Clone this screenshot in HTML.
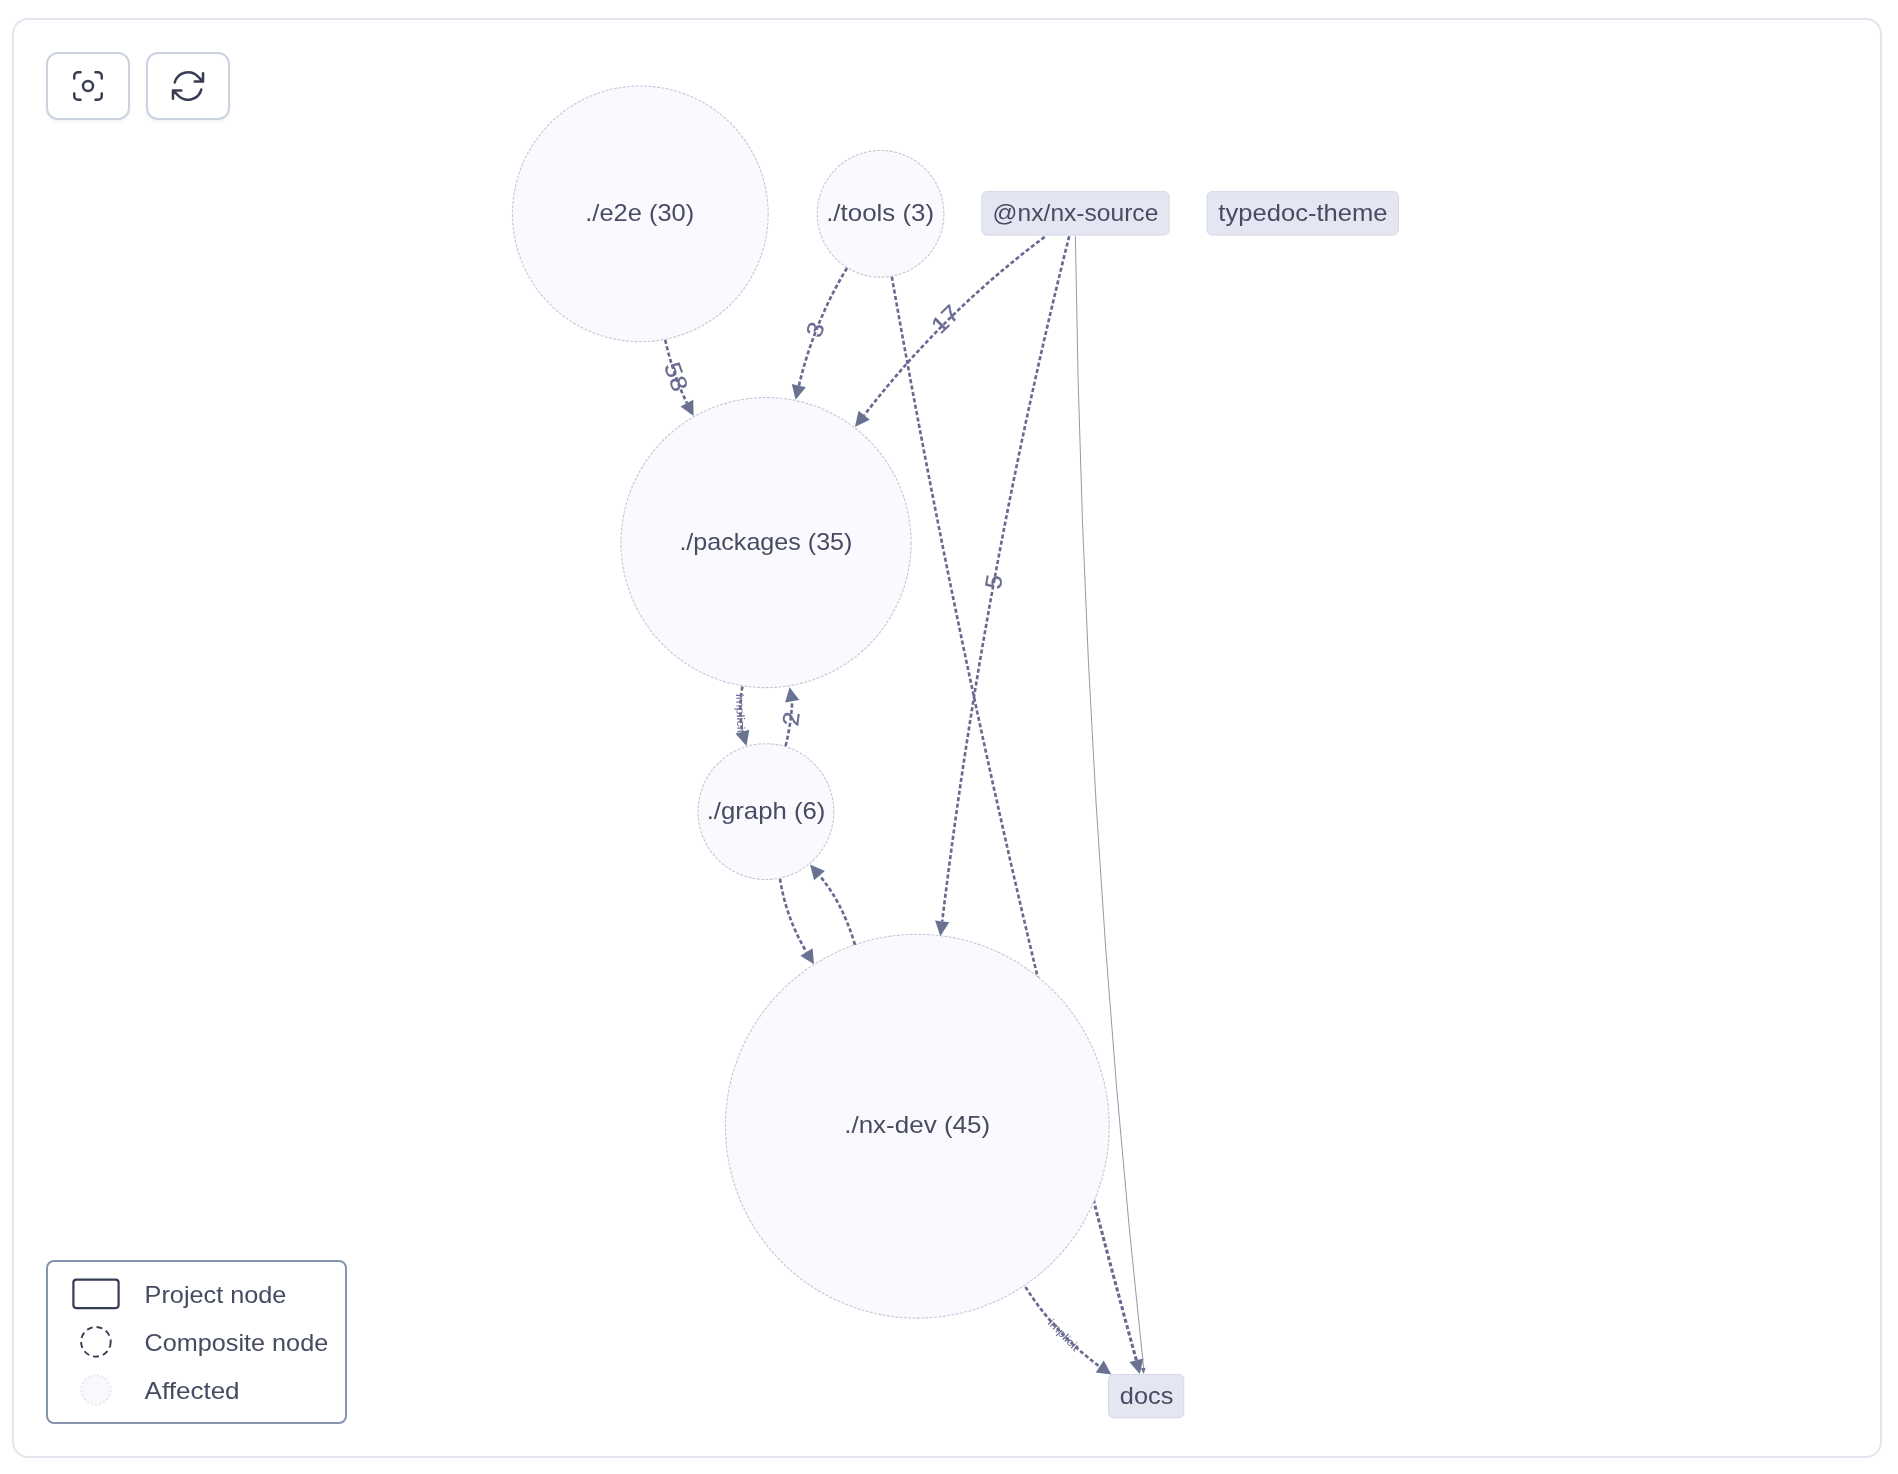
<!DOCTYPE html>
<html lang="en">
<head>
<meta charset="utf-8">
<title>Project graph</title>
<style>
  html, body { margin: 0; padding: 0; background: #ffffff; }
  body { width: 1898px; height: 1474px; position: relative; overflow: hidden;
         font-family: "Liberation Sans", sans-serif; }
  .frame { position: absolute; left: 12px; top: 18px; width: 1866px; height: 1436px;
           border: 2px solid #e3e5f0; border-radius: 16px; background: #fff; }
  .btn { position: absolute; top: 52px; width: 80px; height: 64px; border: 2px solid #cbd3e1;
         border-radius: 12px; background: #fff; box-shadow: 0 2px 3px rgba(30,30,80,0.05); }
  .btn svg { position: absolute; left: 20px; top: 12px; width: 40px; height: 40px; }
  .legend { position: absolute; left: 46px; top: 1260px; width: 297px; height: 160px;
            border: 2px solid #8494b0; border-radius: 8px; background: #fff; }
  #graph { position: absolute; left: 0; top: 0; will-change: transform; }
  .legend svg { will-change: transform; }
  #graph text { font-family: "Liberation Sans", sans-serif; }
</style>
</head>
<body>
<div class="frame"></div>

<svg id="graph" width="1898" height="1474" viewBox="0 0 1898 1474">
  <!--EDGES-UNDER-->
  <path d="M891.8,276.8 Q972.4,732.5 1088.4,1180.6" fill="none" stroke="#686a90" stroke-width="2.65" stroke-dasharray="4.1 2.4"/>
  <path d="M1088.4,1180.6 Q1111.7,1270.6 1136.4,1360.3" fill="none" stroke="#686a90" stroke-width="3.1" stroke-dasharray="4.1 2.4"/>
  <!--/EDGES-UNDER-->
  <!--NODES-->
  <circle cx="640.3" cy="213.85" r="127.85" fill="#faf9fe" stroke="#c4c8d7" stroke-width="1.1" stroke-dasharray="2.9 1.43"/>
  <circle cx="880.55" cy="213.8" r="63.35" fill="#faf9fe" stroke="#c4c8d7" stroke-width="1.1" stroke-dasharray="2.9 1.43"/>
  <circle cx="766.05" cy="542.6" r="145.05" fill="#faf9fe" stroke="#c4c8d7" stroke-width="1.1" stroke-dasharray="2.9 1.43"/>
  <circle cx="765.9" cy="811.6" r="67.9" fill="#faf9fe" stroke="#c4c8d7" stroke-width="1.1" stroke-dasharray="2.9 1.43"/>
  <circle cx="917.3" cy="1126.2" r="191.9" fill="#faf9fe" stroke="#c4c8d7" stroke-width="1.1" stroke-dasharray="2.9 1.43"/>
  <rect x="981.9" y="191.6" width="187.3" height="43.5" rx="5" fill="#e4e6f2" stroke="#d5d8e7" stroke-width="1"/>
  <rect x="1207.1" y="191.6" width="191.3" height="43.5" rx="5" fill="#e4e6f2" stroke="#d5d8e7" stroke-width="1"/>
  <rect x="1108.6" y="1374.5" width="75.2" height="43.4" rx="5" fill="#e4e6f2" stroke="#d5d8e7" stroke-width="1"/>
  <!--/NODES-->
  <!--EDGES-->
  <path d="M665.2,339.9 Q672.5,372.7 686.9,403.1" fill="none" stroke="#686a90" stroke-width="2.65" stroke-dasharray="4.1 2.4"/>
  <polygon points="693.6,415.9 680.5,406.4 693.3,399.7" fill="#6a7292"/>
  <path d="M847.0,268.0 Q813.7,323.1 798.9,385.6" fill="none" stroke="#686a90" stroke-width="2.65" stroke-dasharray="4.1 2.4"/>
  <polygon points="795.6,399.7 791.8,384.0 805.9,387.3" fill="#6a7292"/>
  <path d="M1044.7,236.9 Q942.0,313.6 864.2,415.3" fill="none" stroke="#686a90" stroke-width="2.65" stroke-dasharray="4.1 2.4"/>
  <polygon points="854.9,427.0 858.6,410.8 869.8,419.8" fill="#6a7292"/>
  <path d="M1069.2,236.2 Q984.1,574.9 942.2,921.3" fill="none" stroke="#686a90" stroke-width="2.65" stroke-dasharray="4.1 2.4"/>
  <polygon points="940.3,936.3 935.1,920.4 949.3,922.2" fill="#6a7292"/>
  <path d="M742.4,686.6 Q738.3,709.2 742.4,731.8" fill="none" stroke="#686a90" stroke-width="2.65" stroke-dasharray="4.1 2.4"/>
  <polygon points="746.5,746.0 735.5,733.8 749.3,729.8" fill="#6a7292"/>
  <path d="M785.6,746.0 Q791.1,723.9 792.2,701.2" fill="none" stroke="#686a90" stroke-width="2.65" stroke-dasharray="4.1 2.4"/>
  <polygon points="789.6,687.3 799.3,699.9 785.1,702.5" fill="#6a7292"/>
  <path d="M780.0,878.7 Q786.1,918.0 806.5,952.0" fill="none" stroke="#686a90" stroke-width="2.65" stroke-dasharray="4.1 2.4"/>
  <polygon points="814.0,964.2 800.4,955.8 812.6,948.2" fill="#6a7292"/>
  <path d="M855.0,944.8 Q842.5,902.7 819.5,875.6" fill="none" stroke="#686a90" stroke-width="2.65" stroke-dasharray="4.1 2.4"/>
  <polygon points="810.0,864.6 824.9,870.9 814.1,880.3" fill="#6a7292"/>
  <path d="M1025.4,1286.9 Q1055.1,1333.7 1099.7,1366.6" fill="none" stroke="#686a90" stroke-width="2.65" stroke-dasharray="4.1 2.4"/>
  <polygon points="1111.4,1374.4 1095.7,1372.6 1103.7,1360.6" fill="#6a7292"/>
  <polygon points="1139.8,1373.9 1129.4,1362.0 1143.4,1358.6" fill="#6a7292"/>
  <path d="M1075.4,236.2 Q1082.8,806.9 1143.8,1369.9" fill="none" stroke="#84849a" stroke-width="0.85"/>
  <polygon points="1143.8,1373.9 1140.7,1368.2 1145.6,1367.7" fill="#6d7391"/>
  <!--/EDGES-->
  <!--LABELS-->
  <text x="639.75" y="221.0" text-anchor="middle" font-size="23.4" textLength="108.91" lengthAdjust="spacingAndGlyphs" fill="#474c62">./e2e (30)</text>
  <text x="880.11" y="221.0" text-anchor="middle" font-size="23.4" textLength="107.87" lengthAdjust="spacingAndGlyphs" fill="#474c62">./tools (3)</text>
  <text x="765.94" y="549.8" text-anchor="middle" font-size="23.4" textLength="173.07" lengthAdjust="spacingAndGlyphs" fill="#474c62">./packages (35)</text>
  <text x="766.02" y="818.8" text-anchor="middle" font-size="23.4" textLength="118.73" lengthAdjust="spacingAndGlyphs" fill="#474c62">./graph (6)</text>
  <text x="917.19" y="1133.4" text-anchor="middle" font-size="23.4" textLength="145.98" lengthAdjust="spacingAndGlyphs" fill="#474c62">./nx-dev (45)</text>
  <text x="1075.49" y="220.9" text-anchor="middle" font-size="23.4" textLength="165.70" lengthAdjust="spacingAndGlyphs" fill="#474c62">@nx/nx-source</text>
  <text x="1302.96" y="220.9" text-anchor="middle" font-size="23.4" textLength="169.15" lengthAdjust="spacingAndGlyphs" fill="#474c62">typedoc-theme</text>
  <text x="1146.60" y="1403.8" text-anchor="middle" font-size="23.4" textLength="53.51" lengthAdjust="spacingAndGlyphs" fill="#474c62">docs</text>
  <text transform="translate(676.4,376.6) rotate(70.1)" x="0" y="8.2" text-anchor="middle" font-size="23" textLength="29.0" lengthAdjust="spacingAndGlyphs" fill="#686a90" stroke="#686a90" stroke-width="0.25">58</text>
  <text transform="translate(814.9,329.6) rotate(-68.5)" x="0" y="8.2" text-anchor="middle" font-size="23" textLength="14.0" lengthAdjust="spacingAndGlyphs" fill="#686a90" stroke="#686a90" stroke-width="0.25">3</text>
  <text transform="translate(945.0,318.9) rotate(-44.8)" x="0" y="8.2" text-anchor="middle" font-size="23" textLength="29.0" lengthAdjust="spacingAndGlyphs" fill="#686a90" stroke="#686a90" stroke-width="0.25">17</text>
  <text transform="translate(993.5,581.8) rotate(-79.5)" x="0" y="8.2" text-anchor="middle" font-size="23" textLength="14.0" lengthAdjust="spacingAndGlyphs" fill="#686a90" stroke="#686a90" stroke-width="0.25">5</text>
  <text transform="translate(740.4,713.5) rotate(88.0)" x="0" y="3.6" text-anchor="middle" font-size="11" textLength="39.4" lengthAdjust="spacingAndGlyphs" fill="#686a90">implicit</text>
  <text transform="translate(790.7,718.7) rotate(-82.9)" x="0" y="8.2" text-anchor="middle" font-size="23" textLength="14.0" lengthAdjust="spacingAndGlyphs" fill="#686a90" stroke="#686a90" stroke-width="0.25">2</text>
  <text transform="translate(1063.7,1335.1) rotate(45.7)" x="0" y="3.6" text-anchor="middle" font-size="11" textLength="39.4" lengthAdjust="spacingAndGlyphs" fill="#686a90">implicit</text>
  <!--/LABELS-->
</svg>

<div class="btn" style="left:46px">
  <svg viewBox="0 0 24 24" fill="none" stroke="#383d52" stroke-width="1.5" stroke-linecap="round" stroke-linejoin="round">
    <path d="M7.5 3.75H6A2.25 2.25 0 0 0 3.75 6v1.5M16.5 3.75H18A2.25 2.25 0 0 1 20.25 6v1.5m0 9V18A2.25 2.25 0 0 1 18 20.25h-1.5m-9 0H6A2.25 2.25 0 0 1 3.75 18v-1.5M15 12a3 3 0 1 1-6 0 3 3 0 0 1 6 0Z"/>
  </svg>
</div>
<div class="btn" style="left:146px">
  <svg viewBox="0 0 24 24" fill="none" stroke="#383d52" stroke-width="1.5" stroke-linecap="round" stroke-linejoin="round">
    <path d="M16.023 9.348h4.992v-.001M2.985 19.644v-4.992m0 0h4.992m-4.993 0 3.181 3.183a8.25 8.25 0 0 0 13.803-3.7M4.031 9.865a8.25 8.25 0 0 1 13.803-3.7l3.181 3.182m0-4.991v4.99"/>
  </svg>
</div>

<div class="legend">
  <svg width="297" height="160" style="position:absolute;left:0;top:0">
    <rect x="25.4" y="17.7" width="45.2" height="28.4" rx="3" fill="#fff" stroke="#343c54" stroke-width="2.2"/>
    <circle cx="47.9" cy="79.8" r="14.8" fill="none" stroke="#343c54" stroke-width="1.9" stroke-dasharray="6 4"/>
    <circle cx="47.9" cy="128" r="14.8" fill="#f9f8fd" stroke="#e9e7f4" stroke-width="2" stroke-dasharray="2 2.4"/>
    <g font-family="'Liberation Sans', sans-serif" font-size="24" fill="#454b61">
      <text x="96.6" y="40.8" textLength="141.8" lengthAdjust="spacingAndGlyphs">Project node</text>
      <text x="96.6" y="88.6" textLength="183.6" lengthAdjust="spacingAndGlyphs">Composite node</text>
      <text x="96.6" y="137.2" textLength="95" lengthAdjust="spacingAndGlyphs">Affected</text>
    </g>
  </svg>
</div>
</body>
</html>
